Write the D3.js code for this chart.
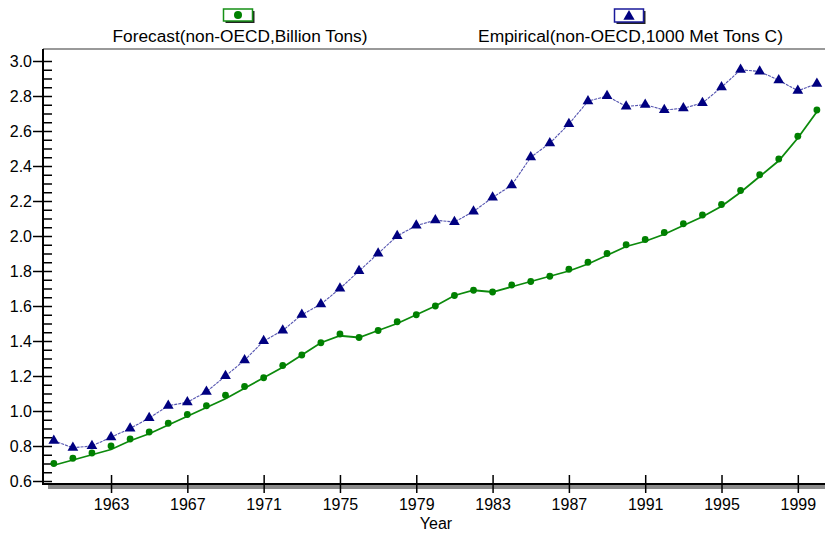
<!DOCTYPE html>
<html><head><meta charset="utf-8">
<script src="https://cdn.jsdelivr.net/npm/d3@7"></script>
<style>
html,body{margin:0;padding:0;background:#fff;}
svg{display:block;font-family:"Liberation Sans",Arial,sans-serif;}
</style></head><body>
<svg id="chart" width="825" height="536"></svg>
<script>
const years = d3.range(1960, 2001);
const empirical = [0.83,0.79,0.80,0.85,0.90,0.96,1.03,1.05,1.11,1.20,1.29,1.40,1.46,1.55,1.61,1.70,1.80,1.90,2.00,2.06,2.09,2.08,2.14,2.22,2.29,2.45,2.53,2.64,2.77,2.80,2.74,2.75,2.72,2.73,2.76,2.85,2.95,2.94,2.89,2.83,2.87];
const forecastDots = [0.70,0.73,0.76,0.80,0.84,0.88,0.93,0.98,1.03,1.09,1.14,1.19,1.26,1.32,1.39,1.44,1.42,1.46,1.51,1.55,1.60,1.66,1.69,1.68,1.72,1.74,1.77,1.81,1.85,1.90,1.95,1.98,2.02,2.07,2.12,2.18,2.26,2.35,2.44,2.57,2.72];
const forecastLine = [0.69,0.72,0.75,0.78,0.83,0.87,0.92,0.97,1.02,1.07,1.13,1.19,1.25,1.32,1.39,1.43,1.42,1.46,1.50,1.55,1.60,1.66,1.69,1.68,1.71,1.74,1.77,1.80,1.84,1.89,1.94,1.97,2.01,2.06,2.11,2.17,2.25,2.34,2.43,2.56,2.71];
const yMajor = [0.6,0.8,1.0,1.2,1.4,1.6,1.8,2.0,2.2,2.4,2.6,2.8,3.0];
const yMinor = d3.range(0, 49).map(i => +(0.6 + i*0.05).toFixed(2));
const xTicks = [1963,1967,1971,1975,1979,1983,1987,1991,1995,1999];
const legendLabels = ["Forecast(non-OECD,Billion Tons)", "Empirical(non-OECD,1000 Met Tons C)"];

const svg = d3.select("#chart");
const x = d3.scaleLinear().domain([1960, 2000]).range([53.8, 816.9]);
const y = d3.scaleLinear().domain([0.6, 3.0]).range([481, 61]);
const axisX = 43, axisY = 484, topY = 49, rightX = 825;

// frame top line
svg.append("line").attr("x1", axisX).attr("x2", rightX).attr("y1", topY).attr("y2", topY)
  .attr("stroke", "#777").attr("stroke-width", 1.5);
// shadow under bottom axis
svg.append("rect").attr("x", 48).attr("y", axisY + 1).attr("width", rightX - 48).attr("height", 4).attr("fill", "#8a8a8a");

// y axis: major ticks outward with labels
const gyL = svg.append("g").attr("transform", `translate(${axisX},0)`)
  .call(d3.axisLeft(y).tickValues(yMajor).tickSize(10).tickPadding(1).tickFormat(d3.format(".1f")));
gyL.select(".domain").remove();
gyL.selectAll("line").attr("stroke", "#000").attr("stroke-width", 1.5);
gyL.selectAll("text").attr("font-size", 16).attr("fill", "#000").attr("font-family", '"Liberation Sans",Arial,sans-serif');
// inward ticks (minor + major)
const gyR = svg.append("g").attr("transform", `translate(${axisX},0)`)
  .call(d3.axisRight(y).tickValues(yMinor).tickSize(9).tickFormat(""));
gyR.select(".domain").remove();
gyR.selectAll("line").attr("stroke", "#000").attr("stroke-width", 1.5);
// left axis line
svg.append("line").attr("x1", axisX).attr("x2", axisX).attr("y1", topY).attr("y2", axisY + 1)
  .attr("stroke", "#000").attr("stroke-width", 2);

// x axis
const gx = svg.append("g").attr("transform", `translate(0,${axisY})`)
  .call(d3.axisBottom(x).tickValues(xTicks).tickSize(9).tickPadding(6).tickFormat(d3.format("d")));
gx.select(".domain").remove();
gx.selectAll("line").attr("stroke", "#000").attr("stroke-width", 1.5).attr("y1", -9);
gx.selectAll("text").attr("font-size", 16).attr("fill", "#000").attr("font-family", '"Liberation Sans",Arial,sans-serif');
svg.append("line").attr("x1", axisX).attr("x2", rightX).attr("y1", axisY).attr("y2", axisY)
  .attr("stroke", "#000").attr("stroke-width", 2);

svg.append("text").attr("x", 436).attr("y", 529).attr("text-anchor", "middle")
  .attr("font-size", 16).text("Year");

// data
const empData = years.map((yr, i) => ({yr, v: empirical[i]}));
const dotData = years.map((yr, i) => ({yr, v: forecastDots[i]}));
const fitData = years.map((yr, i) => ({yr, v: forecastLine[i]}));
const line = d3.line().x(d => x(d.yr)).y(d => y(d.v));

svg.append("path").datum(empData).attr("d", line).attr("fill", "none")
  .attr("stroke", "#5555b0").attr("stroke-width", 1.1).attr("stroke-dasharray", "3,1");
svg.append("path").datum(fitData).attr("d", line).attr("fill", "none")
  .attr("stroke", "#0c8a0c").attr("stroke-width", 1.8);

svg.selectAll(".dot").data(dotData).enter().append("circle")
  .attr("cx", d => x(d.yr)).attr("cy", d => y(d.v)).attr("r", 3.4).attr("fill", "#008000");

const tri = d3.symbol().type(d3.symbolTriangle).size(50);
svg.selectAll(".tri").data(empData).enter().append("path")
  .attr("d", tri).attr("transform", d => `translate(${x(d.yr)},${y(d.v)})`)
  .attr("fill", "#000080");

// legend
function legendBox(cx, cy, w, h, stroke) {
  svg.append("rect").attr("x", cx - w/2 + 2).attr("y", cy - h/2 + 2).attr("width", w).attr("height", h).attr("fill", "#222");
  svg.append("rect").attr("x", cx - w/2).attr("y", cy - h/2).attr("width", w).attr("height", h)
    .attr("fill", "#fff").attr("stroke", stroke).attr("stroke-width", 1.5);
}
legendBox(238, 15, 29, 12, "#169016");
svg.append("circle").attr("cx", 238).attr("cy", 15).attr("r", 4).attr("fill", "#008000");
legendBox(629, 15.5, 29, 13, "#1a1a9a");
svg.append("path").attr("d", d3.symbol().type(d3.symbolTriangle).size(55))
  .attr("transform", "translate(629,16.5)").attr("fill", "#000080");

svg.append("text").attr("x", 240).attr("y", 42).attr("text-anchor", "middle").attr("font-size", 16)
  .attr("textLength", 255).attr("lengthAdjust", "spacingAndGlyphs").text(legendLabels[0]);
svg.append("text").attr("x", 630.5).attr("y", 42).attr("text-anchor", "middle").attr("font-size", 16)
  .attr("textLength", 305).attr("lengthAdjust", "spacingAndGlyphs").text(legendLabels[1]);
</script>
</body></html>
